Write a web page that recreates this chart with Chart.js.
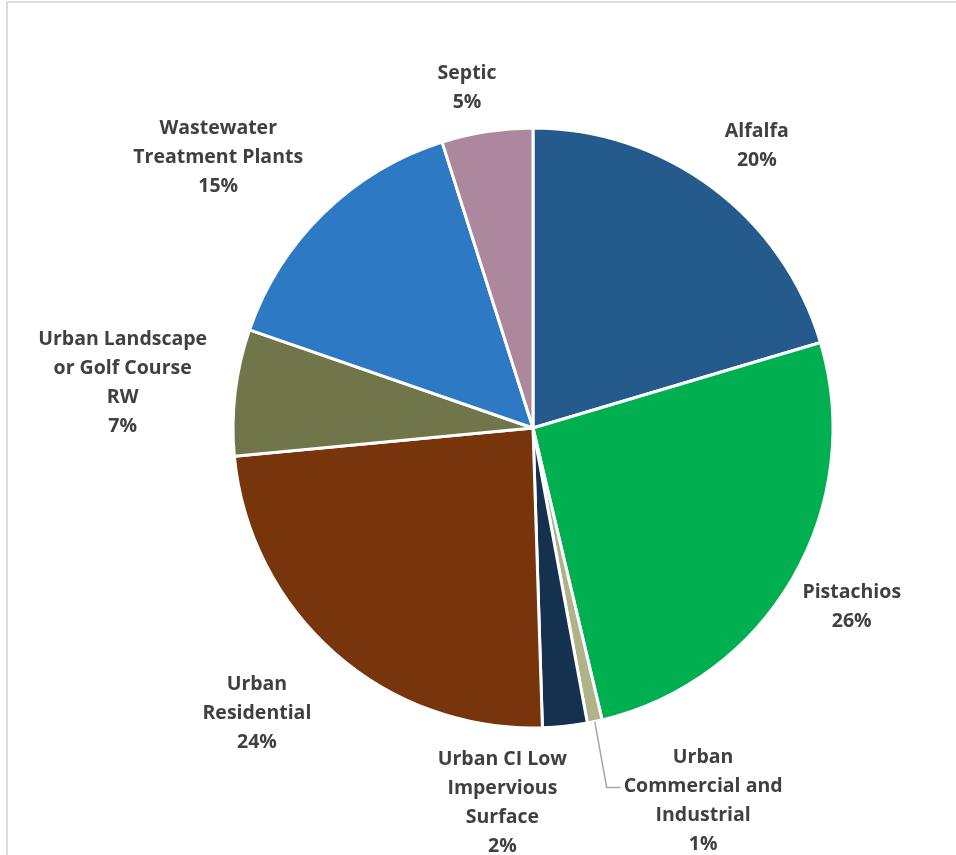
<!DOCTYPE html>
<html>
<head>
<meta charset="utf-8">
<script src="https://cdn.jsdelivr.net/npm/chart.js@4"></script>
<style>
html,body{margin:0;padding:0;background:#fff;}
canvas{display:block;}
</style>
</head>
<body>
<canvas id="c" width="956" height="855"></canvas>
<script>
// ---- data ----
const categories = [
  "Alfalfa",
  "Pistachios",
  "Urban Commercial and Industrial",
  "Urban CI Low Impervious Surface",
  "Urban Residential",
  "Urban Landscape or Golf Course RW",
  "Wastewater Treatment Plants",
  "Septic"
];
const labelLines = [
  ["Alfalfa"],
  ["Pistachios"],
  ["Urban", "Commercial and", "Industrial"],
  ["Urban CI Low", "Impervious", "Surface"],
  ["Urban", "Residential"],
  ["Urban Landscape", "or Golf Course", "RW"],
  ["Wastewater", "Treatment Plants"],
  ["Septic"]
];
const shares = [20.4, 25.9, 0.8, 2.4, 24.0, 6.8, 14.8, 4.9];
const sliceColors = ["#245A8C", "#00B050", "#B0B28A", "#14324F", "#78350B", "#71754A", "#2E79C4", "#AD879E"];

// ---- label layout (polar offsets relative to each slice) ----
const labelAngleShift = [1.6, -0.9, -12.7, 10.8, 2.8, -0.3, -4.9, -2.1]; // degrees
const labelRadialGap = [61, 65, 109, 75, 96, 113, 116, 48];             // px beyond outer radius
const leaderIndex = [2];

const FONT = "bold 19.5px 'Open Sans'";
const LINE_H = 29;
const TEXT_DY = 1.5;
const TEXT_COLOR = "#404040";

const framePlugin = {
  id: "frame",
  beforeDraw(chart) {
    const ctx = chart.ctx;
    ctx.save();
    ctx.fillStyle = "#fff";
    ctx.fillRect(0, 0, chart.width, chart.height);
    ctx.strokeStyle = "#D9D9D9";
    ctx.lineWidth = 2;
    ctx.beginPath();
    ctx.moveTo(7, chart.height + 5);
    ctx.lineTo(7, 2);
    ctx.lineTo(chart.width + 5, 2);
    ctx.stroke();
    ctx.restore();
  }
};

const labelPlugin = {
  id: "sliceLabels",
  afterDatasetsDraw(chart) {
    const ctx = chart.ctx;
    const meta = chart.getDatasetMeta(0);
    const total = shares.reduce((a, b) => a + b, 0);
    ctx.save();
    ctx.font = FONT;
    ctx.fillStyle = TEXT_COLOR;
    ctx.textAlign = "center";
    ctx.textBaseline = "middle";
    meta.data.forEach((arc, i) => {
      const p = arc.getProps(["x", "y", "startAngle", "endAngle", "outerRadius"], true);
      const mid = (p.startAngle + p.endAngle) / 2;
      const a = mid + labelAngleShift[i] * Math.PI / 180;
      const r = p.outerRadius + labelRadialGap[i];
      const cx = p.x + Math.cos(a) * r;
      const cy = p.y + Math.sin(a) * r;
      const lines = labelLines[i].concat([Math.round(shares[i] / total * 100) + "%"]);
      const top = cy - (lines.length - 1) * LINE_H / 2;
      lines.forEach((t, k) => ctx.fillText(t, cx, top + k * LINE_H + TEXT_DY));
      if (leaderIndex.includes(i)) {
        const maxW = Math.max(...lines.map(t => ctx.measureText(t).width));
        const ex = cx - maxW / 2 - 3;
        const ey = top + LINE_H + 2;
        const sx = p.x + Math.cos(mid) * p.outerRadius;
        const sy = p.y + Math.sin(mid) * p.outerRadius;
        ctx.strokeStyle = "#A6A6A6";
        ctx.lineWidth = 1.5;
        ctx.beginPath();
        ctx.moveTo(sx, sy);
        ctx.lineTo(ex - 14, ey);
        ctx.lineTo(ex, ey);
        ctx.stroke();
      }
    });
    ctx.restore();
  }
};

new Chart(document.getElementById("c"), {
  type: "pie",
  data: {
    labels: categories,
    datasets: [{
      data: shares,
      backgroundColor: sliceColors,
      borderColor: "#FFFFFF",
      borderWidth: 3
    }]
  },
  options: {
    responsive: false,
    animation: false,
    layout: { padding: { left: 231.5, right: 121.5, top: 126.5, bottom: 125.5 } },
    plugins: {
      legend: { display: false },
      tooltip: { enabled: false },
      title: { display: false }
    }
  },
  plugins: [framePlugin, labelPlugin]
});
</script>
</body>
</html>
